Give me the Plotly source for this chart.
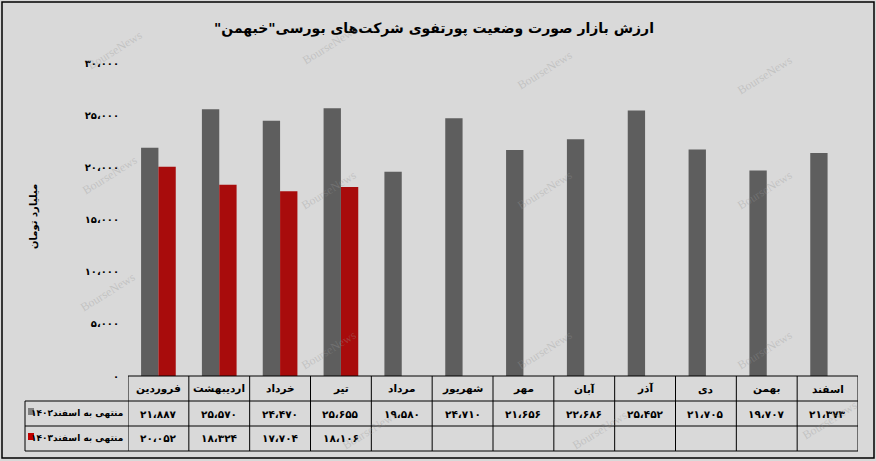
import plotly.graph_objects as go

# ---------------- data ----------------
months = ["فروردین", "اردیبهشت", "خرداد", "تیر", "مرداد", "شهریور",
          "مهر", "آبان", "آذر", "دی", "بهمن", "اسفند"]
values_1402 = [21887, 25570, 24470, 25655, 19580, 24710,
               21656, 22686, 25452, 21705, 19707, 21373]
values_1403 = [20052, 18324, 17704, 18106, None, None,
               None, None, None, None, None, None]
series_names = ["منتهی به اسفند۱۴۰۲", "منتهی به اسفند۱۴۰۳"]
y_tick_vals = [0, 5000, 10000, 15000, 20000, 25000, 30000]
title_text = "ارزش بازار صورت وضعیت پورتفوی شرکت\u200cهای بورسی\"خبهمن\"\u200f"
y_title = "میلیارد تومان"

PERSIAN = str.maketrans("0123456789", "۰۱۲۳۴۵۶۷۸۹")


def fa(n):
    if n is None:
        return ""
    s = f"{n:,}".replace(",", "،")
    return s.translate(PERSIAN)


# ---------------- geometry ----------------
W, H = 876, 461
L, R, T, B = 128, 18, 63, 85
PW, PH = W - L - R, H - T - B


def px(x):
    return (x - L) / PW


def py(y):
    return (H - B - y) / PH


FONT = "DejaVu Sans"
GRAY = "#5e5e5e"
RED = "#a80c0c"

fig = go.Figure()
fig.add_trace(go.Bar(x=months, y=values_1402, name=series_names[0],
                     marker=dict(color=GRAY, line=dict(width=0))))
fig.add_trace(go.Bar(x=months, y=values_1403, name=series_names[1],
                     marker=dict(color=RED, line=dict(width=0))))

shapes = []
annotations = []

# outer frame
shapes.append(dict(type="rect", xref="paper", yref="paper",
                   x0=px(2), x1=px(874), y0=py(458), y1=py(2),
                   line=dict(color="black", width=1.5)))

# table lines
row_y = [py(376), py(401), py(426), py(451)]
n = len(months)
shapes.append(dict(type="line", xref="x", yref="paper", x0=-0.5, x1=n - 0.5,
                   y0=row_y[0], y1=row_y[0], line=dict(color="black", width=1)))
for yy in row_y[1:]:
    shapes.append(dict(type="line", xref="paper", yref="paper", x0=px(25), x1=1,
                       y0=yy, y1=yy, line=dict(color="black", width=1)))
for i in range(n + 1):
    shapes.append(dict(type="line", xref="x", yref="paper", x0=i - 0.5, x1=i - 0.5,
                       y0=row_y[0], y1=row_y[3], line=dict(color="black", width=1)))
shapes.append(dict(type="line", xref="paper", yref="paper", x0=px(25), x1=px(25),
                   y0=row_y[1], y1=row_y[3], line=dict(color="black", width=1)))

# legend swatches in table
for c, y0, y1 in [("#808080", 408, 415), ("#c00000", 433, 440)]:
    shapes.append(dict(type="rect", xref="paper", yref="paper",
                       x0=px(28), x1=px(34), y0=py(y1), y1=py(y0),
                       fillcolor=c, line=dict(width=0)))

# table text
tfont = dict(family=FONT, size=10.5, color="black", weight="bold")
for i, m in enumerate(months):
    annotations.append(dict(x=i, y=(row_y[0] + row_y[1]) / 2, xref="x", yref="paper",
                            text=m, showarrow=False, font=tfont,
                            xanchor="center", yanchor="middle"))
    annotations.append(dict(x=i, y=(row_y[1] + row_y[2]) / 2, xref="x", yref="paper",
                            text=fa(values_1402[i]), showarrow=False, font=tfont,
                            xanchor="center", yanchor="middle"))
    if values_1403[i] is not None:
        annotations.append(dict(x=i, y=(row_y[2] + row_y[3]) / 2, xref="x", yref="paper",
                                text=fa(values_1403[i]), showarrow=False, font=tfont,
                                xanchor="center", yanchor="middle"))
for k, nm in enumerate(series_names):
    annotations.append(dict(x=px(125), y=(row_y[k + 1] + row_y[k + 2]) / 2,
                            xref="paper", yref="paper", text=nm, showarrow=False,
                            font=dict(family=FONT, size=9, color="black", weight="bold"),
                            xanchor="right", yanchor="middle"))

# title and axis title
annotations.append(dict(x=px(434), y=py(29), xref="paper", yref="paper",
                        text=title_text, showarrow=False,
                        font=dict(family=FONT, size=14, color="black", weight="bold"),
                        xanchor="center", yanchor="middle"))
annotations.append(dict(x=px(34), y=py(217), xref="paper", yref="paper",
                        text=y_title, showarrow=False, textangle=-90,
                        font=dict(family=FONT, size=10, color="black", weight="bold"),
                        xanchor="center", yanchor="middle"))

# watermarks
for (wx, wy) in [(115, 50), (330, 45), (545, 70), (765, 75),
                 (110, 175), (329, 190), (545, 190), (765, 190),
                 (108, 292), (329, 350), (545, 350), (765, 350),
                 (370, 430), (600, 430), (830, 420)]:
    annotations.append(dict(x=px(wx), y=py(wy), xref="paper", yref="paper",
                            text="BourseNews", showarrow=False, textangle=-32,
                            font=dict(family="Liberation Serif", size=12,
                                      color="rgba(150,150,150,0.35)"),
                            xanchor="center", yanchor="middle"))

fig.update_layout(
    width=W, height=H,
    margin=dict(l=L, r=R, t=T, b=B),
    paper_bgcolor="#d9d9d9",
    plot_bgcolor="rgba(0,0,0,0)",
    barmode="group", bargap=0.43, bargroupgap=0,
    showlegend=False,
    shapes=shapes, annotations=annotations,
    xaxis=dict(range=[-0.5, n - 0.5], showticklabels=False, showgrid=False,
               zeroline=False, showline=False, ticks=""),
    yaxis=dict(range=[0, 30000], tickvals=y_tick_vals,
               ticktext=[fa(v) for v in y_tick_vals],
               showgrid=False, zeroline=False, showline=False, ticks="",
               ticklabelstandoff=8,
               tickfont=dict(family=FONT, size=10, color="black", weight="bold")),
)

fig.write_html("out.html",
               config={"displayModeBar": False},
               post_script="document.body.style.margin='0';document.body.style.overflow='hidden';")
